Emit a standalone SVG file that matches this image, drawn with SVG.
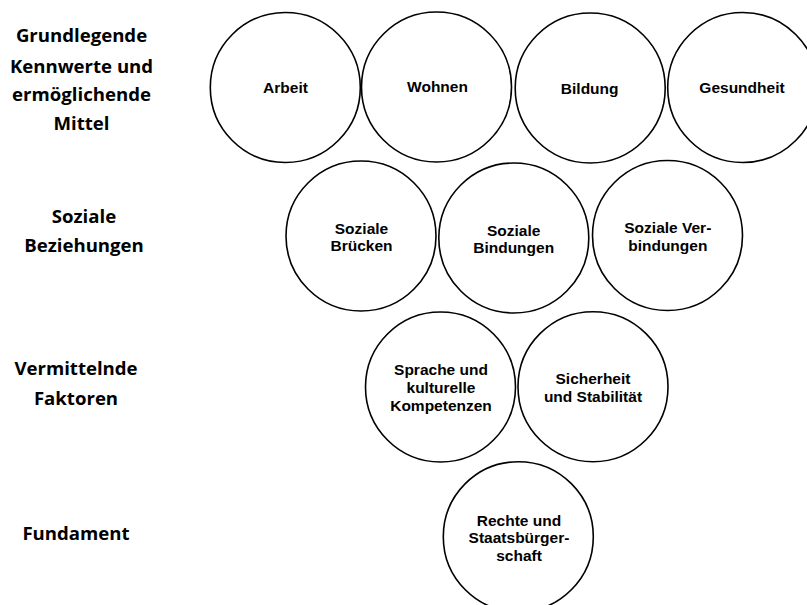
<svg xmlns="http://www.w3.org/2000/svg" width="807" height="605" viewBox="0 0 807 605">
<style>
.c{fill:#fff;stroke:#000;stroke-width:1.6}
.t{font-family:"Liberation Sans",Arial,sans-serif;font-weight:bold;font-size:15.5px;text-anchor:middle;fill:#000}
.l{font-family:"Open Sans","Noto Sans",sans-serif;font-weight:bold;font-size:18.6px;text-anchor:middle;fill:#000}
</style>
<rect width="807" height="605" fill="#fff"/>
<g id="labels">
<g id="label-grundlegende"><text class="l" x="81.5" y="42.3">Grundlegende</text><text class="l" x="81.5" y="72.5">Kennwerte und</text><text class="l" x="81.5" y="100.5">ermöglichende</text><text class="l" x="81.5" y="130">Mittel</text></g>
<g id="label-soziale"><text class="l" x="84" y="223">Soziale</text><text class="l" x="84" y="252">Beziehungen</text></g>
<g id="label-vermittelnde"><text class="l" x="76" y="375">Vermittelnde</text><text class="l" x="76" y="405">Faktoren</text></g>
<g id="label-fundament"><text class="l" x="76" y="539.5">Fundament</text></g>
</g>
<g id="connectors"></g>
<g id="arbeit"><circle class="c" cx="285.3" cy="87.5" r="75"/><text class="t" x="285.5" y="93">Arbeit</text></g>
<g id="wohnen"><circle class="c" cx="436.5" cy="87" r="75"/><text class="t" x="437.5" y="92">Wohnen</text></g>
<g id="bildung"><circle class="c" cx="590.2" cy="88" r="75"/><text class="t" x="589.7" y="94">Bildung</text></g>
<g id="gesundheit"><circle class="c" cx="742.7" cy="87.5" r="75"/><text class="t" x="742" y="93">Gesundheit</text></g>
<g id="soziale-bruecken"><circle class="c" cx="361" cy="236" r="75"/><text class="t" x="361.5" y="234">Soziale</text><text class="t" x="361.5" y="251">Brücken</text></g>
<g id="soziale-bindungen"><circle class="c" cx="513.8" cy="238" r="75"/><text class="t" x="513.7" y="236">Soziale</text><text class="t" x="513.7" y="252.5">Bindungen</text></g>
<g id="soziale-verbindungen"><circle class="c" cx="667.5" cy="235.5" r="75"/><text class="t" x="667.8" y="233">Soziale Ver-</text><text class="t" x="667.8" y="250.5">bindungen</text></g>
<g id="sprache"><circle class="c" cx="440.5" cy="387" r="75"/><text class="t" x="441" y="375">Sprache und</text><text class="t" x="441" y="393">kulturelle</text><text class="t" x="441" y="411">Kompetenzen</text></g>
<g id="sicherheit"><circle class="c" cx="593" cy="386.7" r="75"/><text class="t" x="593" y="383.5">Sicherheit</text><text class="t" x="593" y="401.5">und Stabilität</text></g>
<g id="rechte"><circle class="c" cx="518.3" cy="536.7" r="75"/><text class="t" x="519" y="525.5">Rechte und</text><text class="t" x="519" y="543">Staatsbürger-</text><text class="t" x="519" y="561">schaft</text></g>
</svg>
